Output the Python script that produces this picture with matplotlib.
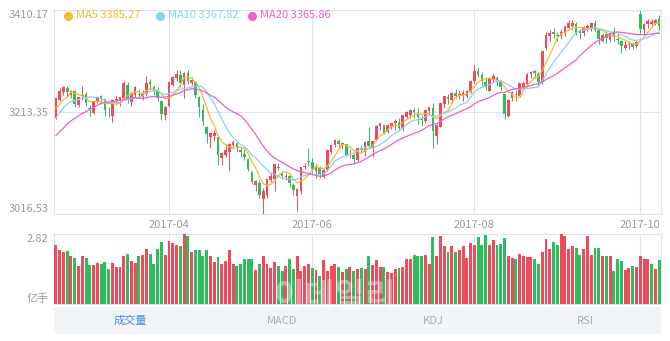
import matplotlib.pyplot as plt
import numpy as np
import pandas as pd

plt.rcParams['font.family'] = ['Noto Sans CJK SC', 'DejaVu Sans']

# trading days shown (Shanghai Composite, 2017)
trade_days = {
    '2017-02': [20, 21, 22, 23, 24, 27, 28],
    '2017-03': [1, 2, 3, 6, 7, 8, 9, 10, 13, 14, 15, 16, 17, 20, 21, 22, 23, 24, 27, 28, 29, 30, 31],
    '2017-04': [5, 6, 7, 10, 11, 12, 13, 14, 17, 18, 19, 20, 21, 24, 25, 26, 27, 28],
    '2017-05': [2, 3, 4, 5, 8, 9, 10, 11, 12, 15, 16, 17, 18, 19, 22, 23, 24, 25, 26, 31],
    '2017-06': [1, 2, 5, 6, 7, 8, 9, 12, 13, 14, 15, 16, 19, 20, 21, 22, 23, 26, 27, 28, 29, 30],
    '2017-07': [3, 4, 5, 6, 7, 10, 11, 12, 13, 14, 17, 18, 19, 20, 21, 24, 25, 26, 27, 28, 31],
    '2017-08': [1, 2, 3, 4, 7, 8, 9, 10, 11, 14, 15, 16, 17, 18, 21, 22, 23, 24, 25, 28, 29, 30, 31],
    '2017-09': [1, 4, 5, 6, 7, 8, 11, 12, 13, 14, 15, 18, 19, 20, 21, 22, 25, 26, 27, 28, 29],
    '2017-10': [9, 10, 11, 12, 13, 16],
}
label_months = ['2017-04', '2017-06', '2017-08', '2017-10']

# closes of the 19 sessions before the first shown day (for the moving averages)
prior_closes = [3108.77, 3113.01, 3101.30, 3123.14, 3136.77, 3142.55, 3149.55, 3159.17,
                3140.17, 3156.98, 3153.09, 3166.98, 3183.18, 3196.70, 3216.84, 3217.93,
                3212.99, 3229.62, 3202.08]

opens = [
    3202.5, 3236.0, 3252.0, 3260.0, 3247.0, 3253.0, 3226.4,
    3244.0, 3247.5, 3221.3, 3212.0, 3233.0, 3244.0, 3237.5, 3214.0, 3205.0, 3236.0, 3235.0, 3240.0,
    3265.0, 3233.0, 3247.0, 3248.0, 3242.0, 3248.0, 3271.0, 3262.0, 3255.0, 3235.0, 3207.0,
    3225.0, 3265.0, 3278.0, 3285.0, 3265.0, 3288.0, 3269.0, 3272.0, 3243.0, 3218.0, 3185.0,
    3165.0, 3167.0, 3165.0, 3124.0, 3130.0, 3136.0, 3150.0,
    3153.0, 3140.0, 3133.0, 3122.0, 3097.0, 3072.0, 3077.0, 3045.0, 3053.0, 3083.0, 3085.0,
    3107.0, 3094.0, 3088.0, 3090.0, 3073.0, 3052.0, 3060.0, 3108.0, 3118.0,
    3117.0, 3100.0, 3106.0, 3090.0, 3101.0, 3137.0, 3149.0, 3158.0, 3149.0, 3151.0, 3130.0,
    3131.0, 3120.0, 3144.0, 3136.0, 3157.0, 3143.0, 3160.0, 3186.0, 3189.0, 3174.0, 3185.0,
    3193.0, 3194.0, 3180.0, 3204.0, 3208.0, 3218.0, 3210.0, 3200.0, 3196.0, 3216.0, 3222.0,
    3167.0, 3185.0, 3228.0, 3243.0, 3236.0, 3250.0, 3244.0, 3244.0, 3245.0, 3252.0,
    3274.0, 3292.0, 3284.0, 3272.0, 3254.0, 3275.0, 3279.0, 3274.0, 3248.0, 3206.0, 3240.0,
    3247.0, 3244.0, 3261.0, 3267.0, 3287.0, 3292.0, 3287.0, 3271.0, 3337.0, 3360.0, 3368.0, 3362.0,
    3360.0, 3365.0, 3376.0, 3380.0, 3384.0, 3370.0, 3366.0, 3376.0, 3375.0, 3386.0, 3371.0,
    3351.0, 3363.0, 3353.0, 3366.0, 3354.0, 3351.0, 3337.0, 3343.0, 3344.0, 3340.0,
    3403.0, 3372.0, 3383.0, 3383.0, 3386.0, 3393.0,
]
highs = [
    3240.6, 3259.0, 3262.6, 3264.1, 3256.0, 3254.9, 3242.8,
    3264.3, 3251.1, 3226.9, 3234.9, 3245.0, 3246.0, 3238.9, 3223.4, 3238.4, 3243.3, 3242.6, 3272.8,
    3272.2, 3251.5, 3263.0, 3257.8, 3255.5, 3283.0, 3276.2, 3266.3, 3261.0, 3236.5, 3224.0,
    3271.5, 3282.7, 3295.2, 3295.0, 3290.0, 3295.0, 3281.0, 3273.0, 3244.0, 3228.0, 3187.0,
    3175.0, 3178.0, 3166.0, 3137.0, 3152.0, 3154.0, 3158.6,
    3156.0, 3145.0, 3142.0, 3125.0, 3100.0, 3082.0, 3082.0, 3066.0, 3084.0, 3097.0, 3113.0,
    3115.0, 3099.0, 3096.0, 3095.0, 3077.0, 3067.0, 3108.0, 3114.0, 3144.0,
    3124.0, 3113.0, 3109.0, 3104.0, 3142.0, 3152.0, 3162.0, 3162.0, 3156.0, 3152.0, 3140.0,
    3134.0, 3145.0, 3149.0, 3157.0, 3184.0, 3158.0, 3188.0, 3193.0, 3191.0, 3190.0, 3193.0,
    3200.0, 3201.0, 3208.0, 3216.0, 3219.0, 3222.0, 3221.0, 3207.0, 3219.0, 3223.0, 3231.0,
    3190.0, 3231.0, 3245.0, 3248.0, 3252.0, 3258.0, 3255.0, 3255.0, 3256.0, 3276.0,
    3305.0, 3300.0, 3290.0, 3281.0, 3280.0, 3286.0, 3283.0, 3276.0, 3249.0, 3238.0, 3253.0,
    3255.0, 3270.0, 3274.0, 3289.0, 3293.0, 3295.0, 3290.0, 3332.0, 3368.0, 3371.0, 3376.0, 3367.0,
    3373.0, 3380.0, 3390.0, 3391.0, 3387.0, 3374.0, 3379.0, 3384.0, 3386.0, 3390.0, 3372.0,
    3366.0, 3370.0, 3367.0, 3377.0, 3365.0, 3352.0, 3350.0, 3350.0, 3348.0, 3351.0,
    3410.17, 3385.0, 3393.0, 3392.0, 3392.0, 3400.0,
]
lows = [
    3198.9, 3234.0, 3245.5, 3242.2, 3240.8, 3223.8, 3223.0,
    3236.8, 3225.7, 3205.0, 3209.0, 3230.0, 3228.5, 3206.0, 3204.5, 3194.5, 3227.8, 3225.0, 3238.0,
    3230.4, 3225.4, 3243.0, 3241.0, 3236.8, 3245.0, 3256.0, 3246.0, 3235.0, 3197.6, 3198.0,
    3223.0, 3263.0, 3274.0, 3262.0, 3239.4, 3268.0, 3266.0, 3240.0, 3203.0, 3189.0, 3153.0,
    3144.0, 3158.0, 3111.8, 3112.0, 3127.0, 3098.9, 3146.0,
    3136.0, 3126.0, 3121.0, 3099.0, 3074.0, 3060.0, 3048.0, 3016.53, 3048.0, 3078.0, 3061.0,
    3101.0, 3085.0, 3083.0, 3068.0, 3053.0, 3022.3, 3055.0, 3103.0, 3110.0,
    3096.0, 3086.0, 3086.0, 3086.0, 3100.0, 3132.0, 3145.0, 3143.0, 3141.0, 3128.0, 3125.0,
    3113.0, 3118.0, 3134.0, 3128.0, 3143.0, 3126.0, 3160.0, 3178.0, 3170.0, 3172.0, 3180.0,
    3178.0, 3179.0, 3176.0, 3202.0, 3202.0, 3201.0, 3190.0, 3187.0, 3193.0, 3208.0, 3143.0,
    3152.0, 3184.0, 3221.0, 3228.0, 3230.0, 3240.0, 3238.0, 3234.0, 3240.0, 3250.0,
    3270.0, 3280.0, 3264.0, 3255.0, 3253.0, 3272.0, 3264.0, 3255.0, 3200.0, 3204.0, 3234.0,
    3235.0, 3243.0, 3258.0, 3264.0, 3278.0, 3278.0, 3262.0, 3268.0, 3333.0, 3350.0, 3356.0, 3350.0,
    3355.0, 3360.0, 3375.0, 3371.0, 3362.0, 3355.0, 3360.0, 3370.0, 3370.0, 3368.0, 3345.0,
    3348.0, 3346.0, 3348.0, 3350.0, 3345.0, 3328.0, 3333.0, 3334.0, 3334.0, 3337.0,
    3366.0, 3364.0, 3376.0, 3379.0, 3382.0, 3372.0,
]
closes = [
    3239.96, 3253.33, 3261.22, 3251.38, 3253.43, 3228.66, 3241.73,
    3246.93, 3230.03, 3218.31, 3233.87, 3242.41, 3240.66, 3216.75, 3212.76, 3237.02, 3239.33, 3241.76, 3268.94,
    3237.45, 3250.81, 3261.61, 3245.22, 3248.55, 3269.45, 3266.96, 3252.95, 3241.31, 3210.24, 3222.51,
    3270.30, 3281.00, 3286.62, 3269.39, 3288.97, 3273.83, 3275.96, 3246.07, 3222.17, 3196.71, 3170.69,
    3172.17, 3173.15, 3129.53, 3134.57, 3140.85, 3152.19, 3154.66,
    3143.71, 3135.35, 3127.37, 3103.04, 3078.61, 3080.53, 3052.79, 3061.50, 3083.51, 3090.23, 3112.96,
    3104.44, 3090.14, 3090.63, 3075.68, 3061.95, 3064.08, 3107.83, 3110.06, 3117.18,
    3102.62, 3105.54, 3091.66, 3102.10, 3140.32, 3150.33, 3158.40, 3152.00, 3153.74, 3130.67, 3132.49,
    3123.17, 3144.37, 3140.01, 3156.21, 3147.45, 3157.87, 3185.44, 3191.20, 3173.20, 3188.06, 3192.43,
    3195.91, 3182.80, 3207.13, 3212.44, 3217.96, 3212.63, 3203.04, 3197.54, 3218.16, 3222.42, 3176.46,
    3187.57, 3230.98, 3244.86, 3237.98, 3250.60, 3243.69, 3247.67, 3249.78, 3253.24, 3273.03,
    3292.64, 3285.06, 3272.93, 3262.08, 3279.46, 3281.87, 3275.57, 3261.75, 3208.54, 3237.36, 3251.26,
    3246.45, 3268.43, 3268.72, 3286.91, 3290.23, 3287.71, 3271.51, 3331.52, 3362.65, 3365.23, 3363.63, 3360.81,
    3367.12, 3379.58, 3384.32, 3385.39, 3365.50, 3365.24, 3376.42, 3379.49, 3384.15, 3371.43, 3353.62,
    3362.86, 3356.84, 3366.00, 3357.81, 3352.53, 3341.55, 3343.58, 3345.27, 3339.64, 3348.94,
    3374.38, 3382.99, 3388.28, 3386.10, 3390.52, 3378.47,
]
# volume, 亿手
volumes = [
    2.36, 2.16, 2.09, 2.12, 1.92, 1.87, 1.54, 1.93, 1.85, 1.59, 1.59, 1.67, 1.63, 1.70, 1.40,
    1.66, 1.50, 1.48, 1.92, 2.03, 1.74, 1.66, 1.93, 1.96, 2.23, 2.03, 1.63, 2.20, 2.49, 1.99,
    2.52, 2.46, 2.36, 2.33, 2.82, 2.73, 2.09, 2.16, 2.16, 1.92, 2.16, 1.93, 1.70, 1.89, 1.63,
    1.72, 2.16, 1.63, 1.54, 1.63, 1.80, 1.80, 1.83, 1.36, 1.63, 1.93, 1.60, 1.45, 1.70, 1.54,
    1.32, 1.54, 1.83, 1.43, 1.93, 1.34, 1.54, 1.63, 1.46, 1.36, 1.14, 1.76, 1.34,
    1.55, 1.60, 1.50, 1.30, 1.40, 1.50, 1.32, 1.39, 1.46, 1.40, 1.93, 1.56, 1.76, 1.50, 1.50,
    1.30, 1.23, 1.43, 1.46, 1.50, 1.80, 1.80, 1.99, 1.92, 1.92, 1.96, 1.62, 2.69, 1.93, 2.75,
    2.33, 2.09, 2.33, 2.09, 2.16, 2.32, 1.85, 2.46, 2.39,
    2.69, 2.36, 2.78, 2.36, 2.56, 2.36, 2.42, 2.66, 1.93, 1.85, 1.80, 2.03, 1.93, 1.89, 1.89,
    1.80, 1.63, 2.09, 2.60, 2.23, 2.49, 2.36, 2.80, 2.73, 2.20, 2.33, 2.25, 1.99, 2.23, 2.75,
    1.96, 2.25, 2.25, 1.93, 1.93, 1.93, 1.32, 1.83, 1.72, 1.36, 1.46, 1.54, 1.50, 1.93, 1.83,
    1.83, 1.63, 1.43, 1.76,
]
ma_windows = [5, 10, 20]
ma_legend = ['MA5 3385.27', 'MA10 3367.82', 'MA20 3365.86']
tabs = ['成交量', 'MACD', 'KDJ', 'RSI']

red = '#f04b5c'
green = '#2dbd5c'
ma_colors = ['#f9b733', '#84d3f2', '#f25dc6']
axis_gray = '#9b9b9b'
line_gray = '#dde3e9'

dates = []
for m, ds in trade_days.items():
    for d in ds:
        dates.append('%s-%02d' % (m, d))
n = len(dates)
x = np.arange(n)
o = np.array(opens); h = np.array(highs); l = np.array(lows); c = np.array(closes)
month_idx = [next(i for i, d in enumerate(dates) if d.startswith(m)) for m in label_months]

W, H = 670, 341
def px(left, top, right, bottom):
    return [left / W, 1 - bottom / H, (right - left) / W, (bottom - top) / H]

fig = plt.figure(figsize=(6.7, 3.41), dpi=100)
ax = fig.add_axes(px(54, 10, 661, 214))
axv = fig.add_axes(px(54, 234, 661, 304))
axt = fig.add_axes(px(54, 307, 661, 334))

# candles
cc = np.where(c >= o, red, green)
ax.vlines(x, l, h, colors=cc, lw=0.7, zorder=2)
body = np.maximum(np.abs(c - o), 0.8)
ax.bar(x, body, bottom=np.minimum(o, c), width=0.7, color=cc, zorder=3)

# moving averages
s = pd.Series(prior_closes + closes)
for w, col in zip(ma_windows, ma_colors):
    ma = s.rolling(w).mean().iloc[len(prior_closes):].values
    ax.plot(x, ma, color=col, lw=0.9, zorder=4)

ax.set_xlim(-0.5, n - 0.5)
ax.set_ylim(3016.53, 3410.17)
ax.set_yticks([3016.53, 3213.35, 3410.17])
ax.set_yticklabels(['3016.53', '3213.35', '3410.17'])
ylabs = ax.get_yticklabels()
ylabs[0].set_va('bottom')
ylabs[2].set_va('top')
ax.set_xticks(month_idx)
ax.set_xticklabels(label_months)
ax.tick_params(length=0, colors=axis_gray, labelsize=8, pad=4)
ax.grid(color=line_gray, lw=0.8, zorder=0)
for sp in ax.spines.values():
    sp.set_color(line_gray)
    sp.set_linewidth(0.8)

# legend
for i, (txt, col) in enumerate(zip(ma_legend, ma_colors)):
    x0 = 68 + i * 92
    fig.add_artist(plt.Line2D([x0 / W], [1 - 15.5 / H], marker='o', ms=5.5, color=col, lw=0))
    fig.text((x0 + 8) / W, 1 - 15.5 / H, txt, color=col, fontsize=8, va='center', ha='left')

# volume
vc = np.where(np.diff([prior_closes[-1]] + closes) >= 0, red, green)
axv.bar(x, volumes, width=0.78, color=vc, zorder=3)
axv.set_xlim(-0.5, n - 0.5)
axv.set_ylim(0, 2.82)
axv.set_yticks([0, 2.82])
axv.set_yticklabels(['亿手', '2.82'])
vlabs = axv.get_yticklabels()
vlabs[0].set_va('bottom')
vlabs[1].set_va('top')
axv.set_xticks(month_idx)
axv.set_xticklabels([])
axv.tick_params(length=0, colors=axis_gray, labelsize=8, pad=4)
axv.grid(axis='x', color=line_gray, lw=0.8, zorder=0)
for sp in axv.spines.values():
    sp.set_color(line_gray)
    sp.set_linewidth(0.8)

# indicator tabs
axt.set_facecolor('#f2f5f7')
axt.set_xticks([])
axt.set_yticks([])
for sp in axt.spines.values():
    sp.set_visible(False)
for i, t in enumerate(tabs):
    axt.text(0.125 + i * 0.25, 0.5, t, transform=axt.transAxes, ha='center', va='center',
             fontsize=8, color='#3f8ee3' if i == 0 else '#a9afb5')

# news watermark
fig.text(335 / W, 1 - 297 / H, '이데일리', family=['Noto Sans CJK KR', 'DejaVu Sans'],
         fontsize=24, fontweight='bold', color='white', alpha=0.38, ha='center', va='center')

fig.savefig('out.png', dpi=100)
